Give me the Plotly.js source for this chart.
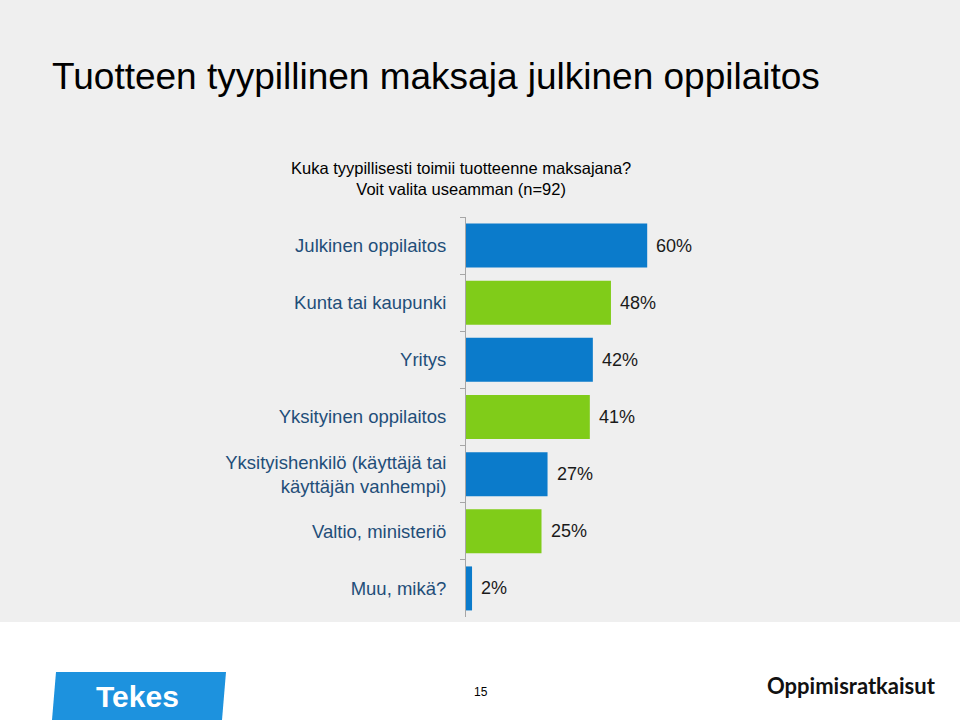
<!DOCTYPE html>
<html>
<head>
<meta charset="utf-8">
<script src="https://cdn.plot.ly/plotly-3.0.1.min.js"></script>
<style>
  html, body { margin: 0; padding: 0; background: #ffffff; }
  #chart { width: 960px; height: 720px; }
</style>
</head>
<body>
<div id="chart"></div>
<script>
// ---- data ----
const categories = [
  "Julkinen oppilaitos",
  "Kunta tai kaupunki",
  "Yritys",
  "Yksityinen oppilaitos",
  "Yksityishenkilö (käyttäjä tai<br>käyttäjän vanhempi)",
  "Valtio, ministeriö",
  "Muu, mikä?"
];
const values = [60, 48, 42, 41, 27, 25, 2];
const valueLabels = ["60%", "48%", "42%", "41%", "27%", "25%", "2%"];

const titleText = "Tuotteen tyypillinen maksaja julkinen oppilaitos";
const subtitleText = "Kuka tyypillisesti toimii tuotteenne maksajana?<br>Voit valita useamman (n=92)";
const pageNumber = "15";

// ---- styles ----
const BLUE = "#0B7BCB";
const GREEN = "#80CC19";
const barColors = categories.map((_, i) => (i % 2 === 0 ? BLUE : GREEN));
const FONT = "Liberation Sans, Arial, sans-serif";

// plot-area pixel geometry
const L = 466, R = 768, T = 217, B = 617;
const px = v => (v - L) / (R - L);
const py = v => (B - v) / (B - T);

const trace = {
  type: "bar",
  orientation: "h",
  x: values,
  y: categories,
  marker: { color: barColors, line: { width: 0 } },
  hoverinfo: "skip",
  cliponaxis: false
};

const annotations = values.map((v, i) => ({
  x: v, y: categories[i], xref: "x", yref: "y",
  text: valueLabels[i], showarrow: false,
  xanchor: "left", yanchor: "middle", xshift: 7,
  font: { family: FONT, size: 18, color: "#1a1a1a" }
}));

annotations.push(
  { xref: "paper", yref: "paper", x: px(50), y: py(76), xanchor: "left", yanchor: "middle",
    text: titleText, showarrow: false, font: { family: FONT, size: 37, color: "#000000" } },
  { xref: "paper", yref: "paper", x: px(461), y: py(178), xanchor: "center", yanchor: "middle",
    text: subtitleText, showarrow: false, align: "center",
    font: { family: FONT, size: 16.5, color: "#000000" } },
  { xref: "paper", yref: "paper", x: px(137), y: py(696), xanchor: "center", yanchor: "middle",
    text: "<b>Tekes</b>", showarrow: false, font: { family: FONT, size: 30, color: "#ffffff" } },
  { xref: "paper", yref: "paper", x: px(481), y: py(692), xanchor: "center", yanchor: "middle",
    text: pageNumber, showarrow: false, font: { family: FONT, size: 12, color: "#000000" } },
  { xref: "paper", yref: "paper", x: px(938), y: py(685), xanchor: "right", yanchor: "middle",
    text: "<b>Oppimisratkaisut</b>", showarrow: false, font: { family: "Lato, sans-serif", size: 22, color: "#111111" } }
);

const shapes = [
  { type: "rect", xref: "paper", yref: "paper", layer: "below",
    x0: px(0), x1: px(960), y0: py(0), y1: py(622),
    fillcolor: "#efefef", line: { width: 0 } },
  { type: "path", xref: "paper", yref: "paper", layer: "above",
    path: `M ${px(56)} ${py(672)} L ${px(226)} ${py(672)} L ${px(222)} ${py(720)} L ${px(52)} ${py(720)} Z`,
    fillcolor: "#1D92DE", line: { width: 0 } }
];

const layout = {
  width: 960, height: 720,
  margin: { l: L, r: 960 - R, t: T, b: 720 - B, pad: 0 },
  paper_bgcolor: "#ffffff",
  plot_bgcolor: "rgba(0,0,0,0)",
  showlegend: false,
  bargap: 0.23,
  xaxis: {
    range: [0, 100], visible: false, fixedrange: true
  },
  yaxis: {
    autorange: "reversed",
    type: "category",
    showline: true, linecolor: "#a6a6a6", linewidth: 1,
    ticks: "outside", tickson: "boundaries", ticklen: 5, tickcolor: "#a6a6a6",
    ticklabelstandoff: 15,
    tickfont: { family: FONT, size: 18.5, color: "#1F4E79" },
    showgrid: false, zeroline: false, fixedrange: true
  },
  annotations: annotations,
  shapes: shapes
};

Plotly.newPlot("chart", [trace], layout, { displayModeBar: false, staticPlot: true });
</script>
</body>
</html>
